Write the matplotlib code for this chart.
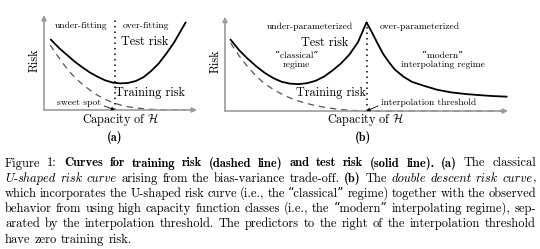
import matplotlib
matplotlib.use("Agg")
import matplotlib.pyplot as plt

plt.rcParams["mathtext.fontset"] = "cm"
plt.rcParams["axes.unicode_minus"] = False

RM = ["cmr10", "DejaVu Serif"]
BF = ["cmb10", "DejaVu Serif"]
IT = ["cmmi10", "DejaVu Serif"]

# ---------------- data: (a) classical U-shaped risk ----------------
a_test_cap = [0.45, 1.0, 1.5, 2.0, 2.5, 3.0, 3.5, 4.0, 4.5, 5.0, 5.5, 6.0,
              6.5, 7.0, 7.5, 8.0, 8.5, 9.0, 9.25]
a_test_risk = [7.4, 6.5, 5.8, 5.1, 4.5, 3.95, 3.5, 3.12, 2.88, 2.8, 2.85, 3.05,
               3.45, 4.1, 4.9, 5.95, 7.1, 8.5, 9.2]
a_train_cap = [0.4, 0.8, 1.2, 1.6, 2.0, 2.5, 3.0, 3.5, 4.0, 4.5, 5.0, 5.5,
               6.0, 6.5, 7.0, 7.5, 8.0, 9.3]
a_train_risk = [6.85, 5.9, 5.0, 4.15, 3.45, 2.72, 2.1, 1.55, 1.12, 0.78, 0.52,
                0.34, 0.22, 0.13, 0.07, 0.03, 0.01, 0.0]
a_sweet_spot = 4.64
a_dotted_top = 9.47

# ---------------- data: (b) double descent risk ----------------
b_test_cap = [0.2, 0.5, 0.8, 1.1, 1.4, 1.7, 2.0, 2.3, 2.6, 2.9, 3.2, 3.5, 3.8,
              4.1, 4.4, 4.7, 5.0, 5.2, 5.4, 5.6, 5.8, 6.0, 6.3, 6.6, 7.0, 7.5,
              8.0, 8.5, 9.0, 9.5, 9.95]
b_test_risk = [7.55, 6.45, 5.55, 4.75, 4.05, 3.5, 3.1, 2.9, 2.85, 2.95, 3.2,
               3.65, 4.3, 5.05, 6.0, 7.3, 9.4, 8.3, 7.1, 6.0, 5.15, 4.4, 3.65,
               3.1, 2.7, 2.25, 1.97, 1.8, 1.68, 1.58, 1.52]
b_train_cap = [0.2, 0.5, 0.8, 1.1, 1.4, 1.7, 2.0, 2.4, 2.8, 3.2, 3.6, 4.0,
               4.5, 5.0, 9.8]
b_train_risk = [7.2, 5.85, 4.7, 3.7, 2.9, 2.3, 1.8, 1.25, 0.87, 0.57, 0.35,
                0.18, 0.06, 0.0, 0.0]
b_threshold = 5.0
b_dotted_top = 9.4

# ---------------- caption ----------------
CAPTION = [
    [("Figure 1: ", "rm"),
     ("Curves for training risk (dashed line) and test risk (solid line).", "bf"),
     (" ", "rm"), ("(a)", "bf"), (" The classical", "rm")],
    [("U", "it"), ("-", "rm"), ("shaped risk curve", "it"),
     (" arising from the bias-variance trade-off. ", "rm"), ("(b)", "bf"),
     (" The ", "rm"), ("double descent risk curve", "it"), (",", "rm")],
    [("which incorporates the U-shaped risk curve (i.e., the \u201cclassical\u201d "
      "regime) together with the observed", "rm")],
    [("behavior from using high capacity function classes (i.e., the \u201cmodern\u201d "
      "interpolating regime), sep-", "rm")],
    [("arated by the interpolation threshold. The predictors to the right of "
      "the interpolation threshold", "rm")],
    [("have zero training risk.", "rm")],
]

W, H = 540, 249
AXIS_GRAY = "#9b9b9b"
LABEL_FS = 8.8
SMALL_FS = 6.9
CAP_FS = 9.0

fig = plt.figure(figsize=(W / 100, H / 100), dpi=100)


def panel(rect):
    ax = fig.add_axes(rect)
    ax.set_xlim(0, 10)
    ax.set_ylim(0, 10)
    ax.axis("off")
    for tip in [(10, 0), (0, 10)]:
        ax.annotate("", xy=tip, xytext=(0, 0), annotation_clip=False,
                    arrowprops=dict(arrowstyle="-|>", color=AXIS_GRAY, lw=1.2,
                                    mutation_scale=7, shrinkA=0, shrinkB=0))
    return ax


ax_a = panel([44 / W, (H - 110) / H, 153 / W, 95 / H])
ax_b = panel([225 / W, (H - 111) / H, 283 / W, 94.3 / H])

# (a)
ax_a.plot(a_train_cap, a_train_risk, color="#555555", lw=0.9,
          ls=(0, (5, 4)), clip_on=False)
ax_a.plot(a_test_cap, a_test_risk, color="black", lw=1.3, clip_on=False)
ax_a.plot([a_sweet_spot, a_sweet_spot], [0, a_dotted_top], color="black",
          lw=1.1, ls=(0, (1, 2.6)), clip_on=False)
ax_a.text(2.44, 8.84, "under-fitting", fontsize=SMALL_FS, family=RM,
          ha="center", va="center")
ax_a.text(6.65, 8.84, "over-fitting", fontsize=SMALL_FS, family=RM,
          ha="center", va="center")
ax_a.text(6.58, 7.13, "Test risk", fontsize=LABEL_FS, family=RM,
          ha="center", va="center")
ax_a.text(6.96, 1.76, "Training risk", fontsize=LABEL_FS, family=RM,
          ha="center", va="center")
ax_a.annotate("sweet spot", xy=(a_sweet_spot, 0), xytext=(2.32, 0.71),
              fontsize=SMALL_FS, family=RM, ha="center", va="center",
              annotation_clip=False,
              arrowprops=dict(arrowstyle="-|>", color="black", lw=0.6,
                              mutation_scale=5, shrinkA=0, shrinkB=0,
                              relpos=(1.0, 0.3)))
ax_a.text(-0.59, 5.26, "Risk", fontsize=LABEL_FS, family=RM, rotation=90,
          ha="center", va="center")
ax_a.text(5.03, -0.95, r"Capacity of $\mathcal{H}$", fontsize=LABEL_FS,
          family=RM, ha="center", va="center")
ax_a.text(4.64, -2.92, "(a)", fontsize=LABEL_FS, family=BF,
          ha="center", va="center")

# (b)
ax_b.plot(b_train_cap, b_train_risk, color="#555555", lw=0.9,
          ls=(0, (5, 4)), clip_on=False)
ax_b.plot(b_test_cap, b_test_risk, color="black", lw=1.3, clip_on=False)
ax_b.plot([b_threshold, b_threshold], [0, b_dotted_top], color="black",
          lw=1.1, ls=(0, (1, 2.6)), clip_on=False)
ax_b.text(3.00, 8.94, "under-parameterized", fontsize=SMALL_FS, family=RM,
          ha="center", va="center")
ax_b.text(6.89, 8.94, "over-parameterized", fontsize=SMALL_FS, family=RM,
          ha="center", va="center")
ax_b.text(3.53, 7.24, "Test risk", fontsize=LABEL_FS, family=RM,
          ha="center", va="center")
ax_b.text(2.53, 5.86, "\u201cclassical\u201d", fontsize=SMALL_FS, family=RM,
          ha="center", va="center")
ax_b.text(2.53, 4.88, "regime", fontsize=SMALL_FS, family=RM,
          ha="center", va="center")
ax_b.text(7.70, 5.86, "\u201cmodern\u201d", fontsize=SMALL_FS, family=RM,
          ha="center", va="center")
ax_b.text(7.70, 4.88, "interpolating regime", fontsize=SMALL_FS, family=RM,
          ha="center", va="center")
ax_b.text(3.75, 1.88, "Training risk", fontsize=LABEL_FS, family=RM,
          ha="center", va="center")
ax_b.annotate("interpolation threshold", xy=(b_threshold, 0),
              xytext=(7.19, 0.85), fontsize=SMALL_FS, family=RM,
              ha="center", va="center", annotation_clip=False,
              arrowprops=dict(arrowstyle="-|>", color="black", lw=0.6,
                              mutation_scale=5, shrinkA=0, shrinkB=0,
                              relpos=(0.0, 0.3)))
ax_b.text(-0.34, 5.25, "Risk", fontsize=LABEL_FS, family=RM, rotation=90,
          ha="center", va="center")
ax_b.text(4.98, -0.85, r"Capacity of $\mathcal{H}$", fontsize=LABEL_FS,
          family=RM, ha="center", va="center")
ax_b.text(4.87, -2.83, "(b)", fontsize=LABEL_FS, family=BF,
          ha="center", va="center")

# ---------------- justified caption ----------------
STYLE = {"rm": RM, "bf": BF, "it": IT}
renderer = fig.canvas.get_renderer()


def split_words(chunks):
    words, cur = [], []
    for text, style in chunks:
        parts = text.split(" ")
        for i, p in enumerate(parts):
            if i > 0:
                if cur:
                    words.append(cur)
                cur = []
            if p:
                cur.append((p, style))
    if cur:
        words.append(cur)
    return words


def place_line(chunks, baseline, left, right, justify):
    words = split_words(chunks)
    built = []
    for word in words:
        pieces = []
        for s, style in word:
            t = fig.text(0, 0, s, family=STYLE[style], fontsize=CAP_FS,
                         ha="left", va="baseline")
            w = t.get_window_extent(renderer).width
            pieces.append((t, w))
        built.append(pieces)
    widths = [sum(w for _, w in p) for p in built]
    if justify and len(built) > 1:
        gap = (right - left - sum(widths)) / (len(built) - 1)
    else:
        gap = 0.333 * CAP_FS * 100 / 72
    x = left
    for pieces, wsum in zip(built, widths):
        xx = x
        for t, w in pieces:
            t.set_position((xx / W, 1 - baseline / H))
            xx += w
        x += wsum + gap


CAP_LEFT, CAP_RIGHT = 5, 536
FIRST_BASE, LINE_STEP = 166.5, 15.2
for i, chunks in enumerate(CAPTION):
    place_line(chunks, FIRST_BASE + i * LINE_STEP, CAP_LEFT, CAP_RIGHT,
               justify=(i < len(CAPTION) - 1))

fig.savefig("out.png", dpi=100)
